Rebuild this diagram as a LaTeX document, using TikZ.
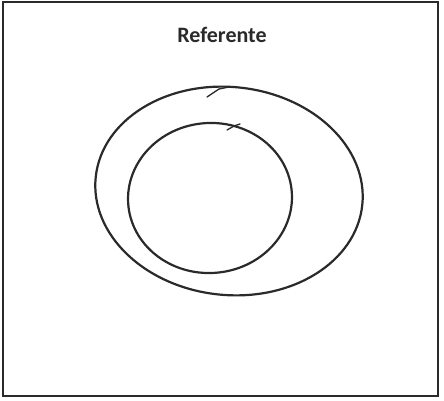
\documentclass[tikz,border=0pt]{standalone}
\usepackage{fontspec}
\newfontfamily\titlefont{Carlito}
\definecolor{pencil}{HTML}{2A2A2A}
\tikzset{
  sketch/.style={draw=pencil, line width=2.2pt, line join=round, line cap=round},
  framebox/.style={draw=pencil, line width=1.5pt},
  titletext/.style={font=\titlefont\bfseries\fontsize{22}{26}\selectfont, text=pencil}
}
\begin{document}
\begin{tikzpicture}[x=1pt,y=-1pt]
\useasboundingbox (0,0) rectangle (444,401);
\draw[framebox] (3,2) rectangle (438,396);
\node[titletext] (title) at (222,35) {Referente};
% outer loop
\coordinate (oc) at (229,191);
\draw[sketch, rotate around={-6:(oc)}] (oc) ellipse [x radius=134, y radius=104];
\draw[sketch, line width=1.3pt] (207,97) -- (219,89) -- (229,87);
% inner loop
\coordinate (ic) at (210,198);
\draw[sketch, rotate around={4:(ic)}] (ic) ellipse [x radius=82, y radius=75];
\draw[sketch, line width=1.3pt] (227,130) -- (234,126) -- (240,124);
\end{tikzpicture}
\end{document}
